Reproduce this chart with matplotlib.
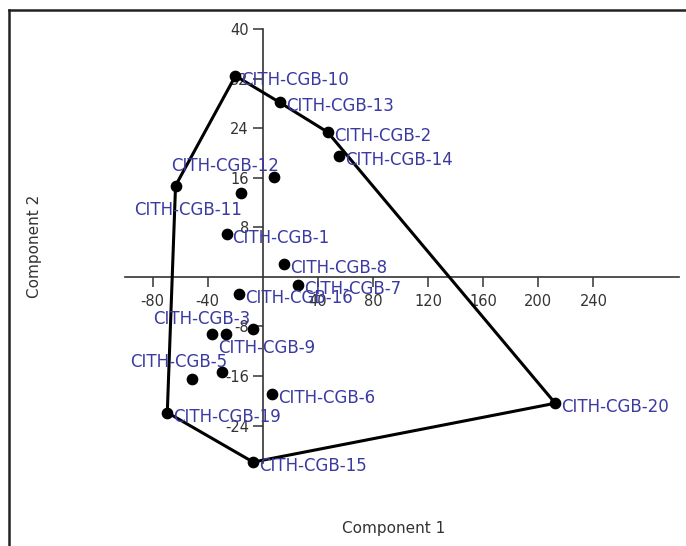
"""PCA scores, component 1 vs component 2, with convex hull."""

import numpy as np
import matplotlib.pyplot as plt
from matplotlib.lines import Line2D

plt.rcParams["axes.unicode_minus"] = False

# ------------------------------
# Data
# ------------------------------

names = [f"CITH-CGB-{i}" for i in range(1, 21)]
pc1 = [-26.3, 47.1, -7.0, -63.3, -29.4, 6.8, 25.4, 15.2, -37.2, -19.8,
       -15.7, 8.0, 12.3, 55.6, -7.0, -17.4, -27.0, -51.2, -69.3, 212.3]
pc2 = [6.95, 23.4, -8.4, 14.75, -15.3, -18.9, -1.3, 2.1, -9.26, 32.5,
       13.5, 16.1, 28.2, 19.6, -29.9, -2.75, -9.26, -16.5, -21.9, -20.4]

hidden = {"CITH-CGB-4", "CITH-CGB-17", "CITH-CGB-18"}

xticks = [-80, -40, 40, 80, 120, 160, 200, 240]
yticks = [-24, -16, -8, 8, 16, 24, 32, 40]

# label placement (pixels offset, alignment); default is right of the point
label_pos = {
    "CITH-CGB-12": (5, 11, "right"),
    "CITH-CGB-11": (1, -17, "right"),
    "CITH-CGB-3": (-3, 10, "right"),
    "CITH-CGB-5": (5, 10, "right"),
    "CITH-CGB-9": (7, -14, "left"),
}


def convex_hull(pts):
    pts = sorted(set(pts))

    def cross(o, a, b):
        return (a[0] - o[0]) * (b[1] - o[1]) - (a[1] - o[1]) * (b[0] - o[0])

    lower, upper = [], []
    for p in pts:
        while len(lower) >= 2 and cross(lower[-2], lower[-1], p) <= 0:
            lower.pop()
        lower.append(p)
    for p in reversed(pts):
        while len(upper) >= 2 and cross(upper[-2], upper[-1], p) <= 0:
            upper.pop()
        upper.append(p)
    return lower[:-1] + upper[:-1]


# ------------------------------
# Plot
# ------------------------------

fig = plt.figure(figsize=(6.86, 5.46), dpi=100)
ax = fig.add_axes([0.1822, 0.1526, 0.8073, 0.7936])

hull = convex_hull(list(zip(pc1, pc2)))
hx = [p[0] for p in hull] + [hull[0][0]]
hy = [p[1] for p in hull] + [hull[0][1]]
ax.plot(hx, hy, color="black", lw=2.2, clip_on=False, zorder=3)

ax.scatter(pc1, pc2, s=55, color="black", clip_on=False, zorder=4)

for name, x, y in zip(names, pc1, pc2):
    if name in hidden:
        continue
    dx, dy, ha = label_pos.get(name, (6, -4, "left"))
    ax.annotate(name, (x, y), xytext=(dx, dy), textcoords="offset pixels",
                ha=ha, va="center", fontsize=12, color="#3a3aa0",
                zorder=5, annotation_clip=False)

ax.set_xlim(-100, 302)
ax.set_ylim(-30, 40)
ax.spines["left"].set_position("zero")
ax.spines["bottom"].set_position("zero")
ax.spines["right"].set_visible(False)
ax.spines["top"].set_visible(False)
for s in ("left", "bottom"):
    ax.spines[s].set_color("#333333")
    ax.spines[s].set_linewidth(1.2)

ax.set_xticks(xticks)
ax.set_yticks(yticks)
ax.tick_params(axis="x", direction="out", length=7, width=1.1, pad=5,
               labelsize=10.5, colors="#333333")
ax.tick_params(axis="y", direction="out", length=7, width=1.1, pad=3,
               labelsize=10.5, colors="#333333")
ax.patch.set_alpha(0)

fig.text(394 / 686, 1 - 528 / 546, "Component 1", ha="center", va="center",
         fontsize=11, color="#333333")
fig.text(35 / 686, 1 - 246 / 546, "Component 2", ha="center", va="center",
         rotation=90, fontsize=11, color="#333333")

# outer frame (top and left edges)
fig.add_artist(Line2D([9 / 686, 1], [1 - 10 / 546, 1 - 10 / 546],
                      transform=fig.transFigure, color="#222222", lw=1.8))
fig.add_artist(Line2D([9 / 686, 9 / 686], [0, 1 - 10 / 546],
                      transform=fig.transFigure, color="#222222", lw=1.8))

fig.savefig("out.png", dpi=100)
